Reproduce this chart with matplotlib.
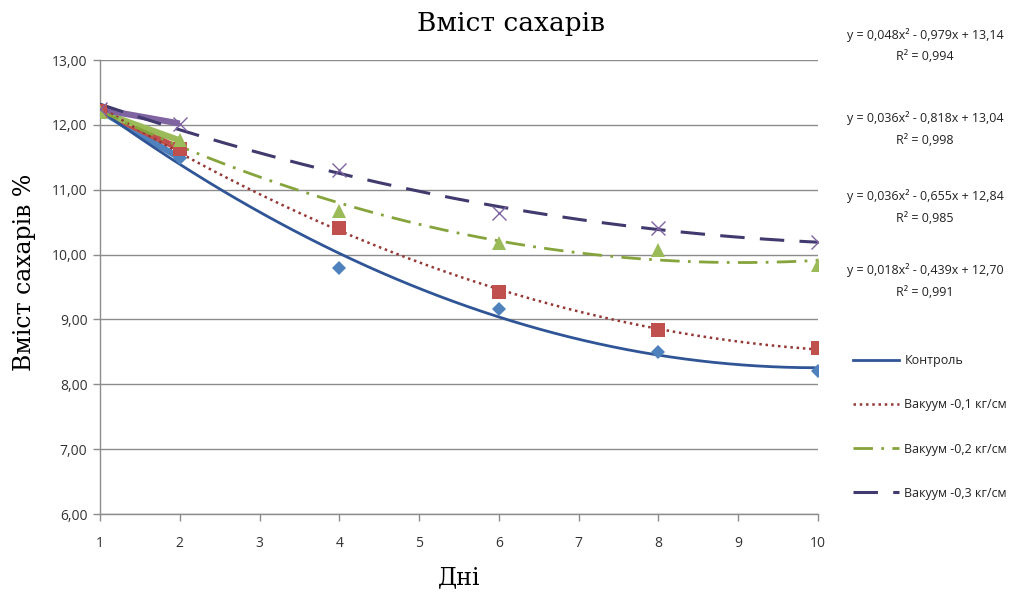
import numpy as np
import matplotlib
matplotlib.use("Agg")
import matplotlib.pyplot as plt
from matplotlib.ticker import FuncFormatter

# ---- data ----
days = [1, 2, 4, 6, 8, 10]
control = [12.22, 11.49, 9.80, 9.16, 8.50, 8.21]
vac01 = [12.22, 11.63, 10.41, 9.42, 8.83, 8.56]
vac02 = [12.20, 11.76, 10.67, 10.18, 10.07, 9.84]
vac03 = [12.24, 12.02, 11.30, 10.64, 10.41, 10.20]

series_names = ["Контроль", "Вакуум -0,1 кг/см", "Вакуум -0,2 кг/см", "Вакуум -0,3 кг/см"]
equations = ["y = 0,048x² - 0,979x + 13,14", "y = 0,036x² - 0,818x + 13,04",
             "y = 0,036x² - 0,655x + 12,84", "y = 0,018x² - 0,439x + 12,70"]
r2_texts = ["R² = 0,994", "R² = 0,998", "R² = 0,985", "R² = 0,991"]
x_ticks = list(range(1, 11))
y_ticks = [6, 7, 8, 9, 10, 11, 12, 13]

title = "Вміст сахарів"
ylabel = "Вміст сахарів %"
xlabel = "Дні"

# ---- styles ----
marker_colors = ["#4F81BD", "#C0504D", "#9BBB59", "#8064A2"]
trend_colors = ["#2F5597", "#953735", "#86A43C", "#403A6E"]
markers = ["D", "s", "^", "x"]
msizes = [7.5, 9.5, 9.5, 10]
trend_styles = ["-", (0, (1, 1.5)), (0, (7, 3, 1, 3)), (0, (8, 5))]
trend_widths = [2.0, 1.8, 2.0, 2.2]

fig = plt.figure(figsize=(10.28, 5.94), dpi=100)
ax = fig.add_axes([100/1028, 1-514/594, (818-100)/1028, (514-60)/594])

sans = ["Open Sans", "DejaVu Sans"]
serif = ["DejaVu Serif"]

all_series = [control, vac01, vac02, vac03]
xs = np.linspace(1, 10, 200)
handles = []
for i, ys in enumerate(all_series):
    ax.plot(days[:2], ys[:2], color=marker_colors[i], lw=4.5, solid_capstyle="butt", zorder=3)
    coef = np.polyfit(days, ys, 2)
    h, = ax.plot(xs, np.polyval(coef, xs), color=trend_colors[i], lw=trend_widths[i],
                 linestyle=trend_styles[i], zorder=4)
    handles.append(h)
    if markers[i] == "x":
        ax.plot(days, ys, linestyle="none", marker="x", color=marker_colors[i],
                markersize=msizes[i], markeredgewidth=1.0, zorder=5)
    else:
        ax.plot(days, ys, linestyle="none", marker=markers[i], color=marker_colors[i],
                markersize=msizes[i], markeredgewidth=0, zorder=5)

ax.set_xlim(1, 10)
ax.set_ylim(6, 13)
ax.set_xticks(x_ticks)
ax.set_yticks(y_ticks)
ax.yaxis.set_major_formatter(FuncFormatter(lambda v, p: f"{v:.2f}".replace(".", ",")))
ax.grid(axis="y", color="#8C8C8C", lw=1.0)
ax.set_axisbelow(True)
for s in ["top", "right"]:
    ax.spines[s].set_visible(False)
for s in ["left", "bottom"]:
    ax.spines[s].set_color("#8C8C8C")
    ax.spines[s].set_linewidth(1.0)
ax.tick_params(axis="both", colors="#8C8C8C", labelcolor="#333333", length=5, width=1.0,
               labelsize=10)
ax.tick_params(axis="x", pad=11)
ax.tick_params(axis="y", pad=4)
for lab in ax.get_xticklabels() + ax.get_yticklabels():
    lab.set_fontfamily(sans)

fig.text(511/1028, 1-23/594, title, ha="center", va="center", fontsize=19, family=serif)
fig.text(459/1028, 1-578/594, xlabel, ha="center", va="center", fontsize=17, family=serif)
fig.text(25/1028, 1-272/594, ylabel, ha="center", va="center", fontsize=17,
         rotation=90, family=serif)

eq_y = [35, 118, 196, 270]
for i in range(4):
    fig.text(925/1028, 1-eq_y[i]/594, equations[i], ha="center", va="center",
             fontsize=9, family=sans, color="#222222")
    fig.text(925/1028, 1-(eq_y[i]+22)/594, r2_texts[i], ha="center", va="center",
             fontsize=9, family=sans, color="#222222")

leg = fig.legend(handles, series_names, loc="upper left",
                 bbox_to_anchor=(848/1028, 1-349/594), frameon=False,
                 prop={"family": sans, "size": 9}, handlelength=3.7,
                 handletextpad=0.4, labelspacing=2.5, borderaxespad=0)
for t in leg.get_texts():
    t.set_color("#222222")

fig.savefig("out.png", dpi=100)
